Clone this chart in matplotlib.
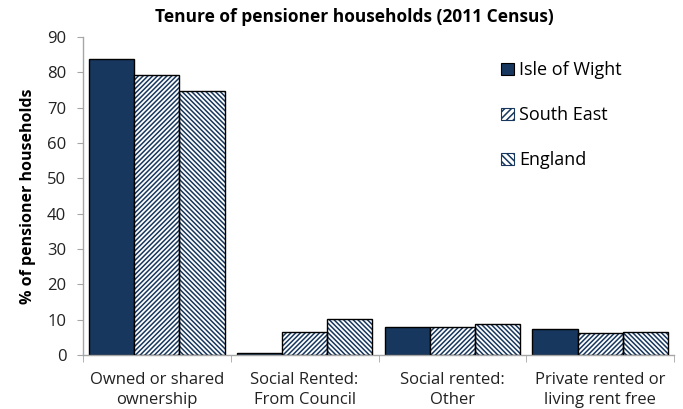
import matplotlib
matplotlib.use('Agg')
import matplotlib.pyplot as plt
import matplotlib.patches as mpatches
import numpy as np

plt.rcParams['font.family'] = ['Open Sans', 'DejaVu Sans']
plt.rcParams['hatch.linewidth'] = 1.1

# Datos
categories = ['Owned or shared\nownership', 'Social Rented:\nFrom Council',
              'Social rented:\nOther', 'Private rented or\nliving rent free']
series_names = ['Isle of Wight', 'South East', 'England']
isle_of_wight = [83.7, 0.7, 7.8, 7.5]
south_east = [79.3, 6.4, 8.0, 6.1]
england = [74.6, 10.1, 8.7, 6.4]

NAVY = '#17375E'
GRAY = '#A6A6A6'

fig = plt.figure(figsize=(6.83, 4.09), dpi=100)
ax = fig.add_axes([83/683, (409-355)/409, (674-83)/683, (355-37)/409])

x = np.arange(len(categories))
w = 0.306
offsets = [-w, 0, w]
hatches = [None, '///////', '\\\\\\\\\\\\\\']
legend_hatches = [None, '/////', '\\\\\\\\\\']
values = [isle_of_wight, south_east, england]

handles = []
for off, vals, h, lh, name in zip(offsets, values, hatches, legend_hatches, series_names):
    if h is None:
        ax.bar(x + off, vals, w, color=NAVY, edgecolor='black', linewidth=1, zorder=2)
        handles.append(mpatches.Patch(facecolor=NAVY, edgecolor='black', linewidth=0.8, label=name))
    else:
        ax.bar(x + off, vals, w, color='white', edgecolor=NAVY, hatch=h, linewidth=0, zorder=2)
        ax.bar(x + off, vals, w, fill=False, edgecolor='black', linewidth=1, zorder=3)
        handles.append(mpatches.Patch(facecolor='white', edgecolor=NAVY, hatch=lh, linewidth=0.8, label=name))

ax.set_xlim(-0.5, len(categories) - 0.5)
ax.set_ylim(0, 90)
ax.set_yticks(range(0, 91, 10))
ax.set_xticks(x)
ax.set_xticklabels(categories, fontsize=12, color='#222222', linespacing=1.4)
ax.set_xticks(np.arange(-0.5, len(categories), 1), minor=True)
ax.tick_params(axis='x', which='major', length=0, pad=12)
ax.tick_params(axis='x', which='minor', length=5, color=GRAY, direction='out')
ax.tick_params(axis='y', length=4, color=GRAY, labelsize=12, labelcolor='#222222', pad=8)

for s in ['top', 'right']:
    ax.spines[s].set_visible(False)
for s in ['left', 'bottom']:
    ax.spines[s].set_color(GRAY)
    ax.spines[s].set_linewidth(1)

ax.set_ylabel('% of pensioner households', fontsize=11.5, fontweight='bold', labelpad=8)
fig.text(354 / 683, 1 - 17 / 409, 'Tenure of pensioner households (2011 Census)',
         ha='center', va='center', fontsize=12.5, fontweight='bold')

leg = ax.legend(handles=handles, loc='upper left', bbox_to_anchor=(0.68, 0.975),
                frameon=False, fontsize=13, handlelength=0.7, handleheight=0.7,
                handletextpad=0.3, labelspacing=1.5)

fig.savefig('out.png', dpi=100, facecolor='white')
